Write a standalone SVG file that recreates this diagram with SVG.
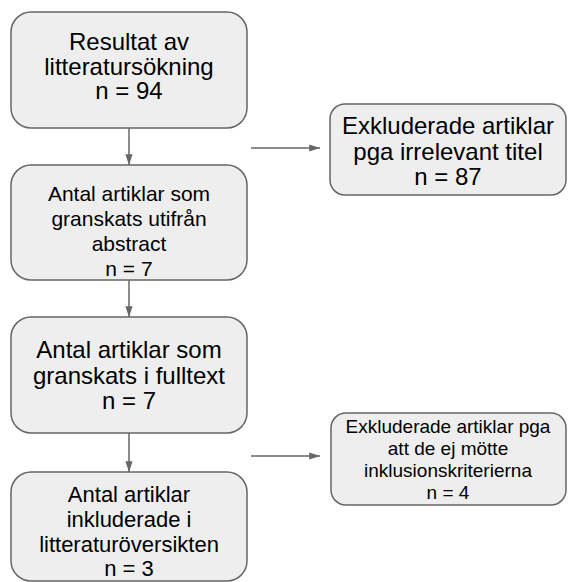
<svg xmlns="http://www.w3.org/2000/svg" width="568" height="582" viewBox="0 0 568 582">
<style>
.box{fill:#eeeeee;stroke:#666666;stroke-width:1.5}
.t{font-family:"Liberation Sans",Arial,sans-serif;fill:#000;text-anchor:middle}
.c{stroke:#666666;stroke-width:1.5;fill:none;marker-end:url(#ah)}
</style>
<defs>
<marker id="ah" viewBox="0 0 12 10" refX="12" refY="5" markerWidth="11" markerHeight="9" markerUnits="userSpaceOnUse" orient="auto"><path d="M0,1 L12,5 L0,9 Z" fill="#666666"/></marker>
</defs>
<g id="connectors">
<path class="c" d="M129,128 V165"/>
<path class="c" d="M129,280 V317"/>
<path class="c" d="M129,433 V472"/>
<path class="c" d="M251,148 H320"/>
<path class="c" d="M251,456 H320"/>
</g>
<g id="n1">
<rect class="box" x="11" y="12" width="236" height="116" rx="20"/>
<text class="t" font-size="24"><tspan x="129" y="50">Resultat av</tspan><tspan x="129" y="74.5">litteratursökning</tspan><tspan x="129" y="99">n = 94</tspan></text>
</g>
<g id="n2">
<rect class="box" x="11" y="165" width="236" height="115" rx="20"/>
<text class="t" font-size="21"><tspan x="129" y="201">Antal artiklar som</tspan><tspan x="129" y="226">granskats utifrån</tspan><tspan x="129" y="251">abstract</tspan><tspan x="129" y="276">n = 7</tspan></text>
</g>
<g id="n3">
<rect class="box" x="11" y="317" width="236" height="116" rx="20"/>
<text class="t" font-size="24"><tspan x="129" y="358">Antal artiklar som</tspan><tspan x="129" y="384">granskats i fulltext</tspan><tspan x="129" y="409">n = 7</tspan></text>
</g>
<g id="n4">
<rect class="box" x="11" y="472" width="236" height="109" rx="20"/>
<text class="t" font-size="22"><tspan x="129" y="502">Antal artiklar</tspan><tspan x="129" y="527">inkluderade i</tspan><tspan x="129" y="552">litteraturöversikten</tspan><tspan x="129" y="576">n = 3</tspan></text>
</g>
<g id="r1">
<rect class="box" x="330" y="104" width="236" height="91" rx="15"/>
<text class="t" font-size="24"><tspan x="448" y="134">Exkluderade artiklar</tspan><tspan x="448" y="159.5">pga irrelevant titel</tspan><tspan x="448" y="185">n = 87</tspan></text>
</g>
<g id="r2">
<rect class="box" x="331" y="413" width="235" height="92" rx="15"/>
<text class="t" font-size="19"><tspan x="448" y="433">Exkluderade artiklar pga</tspan><tspan x="448" y="455">att de ej mötte</tspan><tspan x="448" y="477">inklusionskriterierna</tspan><tspan x="448" y="499">n = 4</tspan></text>
</g>
</svg>
